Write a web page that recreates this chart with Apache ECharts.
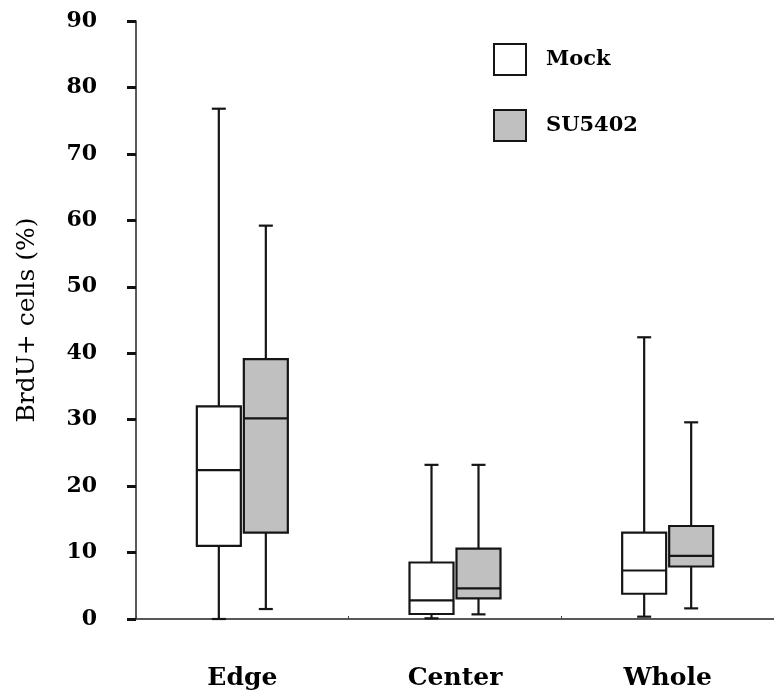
<!DOCTYPE html>
<html>
<head>
<meta charset="utf-8">
<script src="https://cdn.jsdelivr.net/npm/echarts@6/dist/echarts.min.js"></script>
<style>
  html, body { margin: 0; padding: 0; background: #fff; }
  #chart { width: 774px; height: 700px; }
</style>
</head>
<body>
<div id="chart"></div>
<script>
// data: [min, q1, median, q3, max]
const categories = ["Edge", "Center", "Whole"];
const seriesNames = ["Mock", "SU5402"];
const mockBox = [
  [0, 11.0, 22.4, 32.0, 76.8],
  [0.1, 0.75, 2.8, 8.5, 23.2],
  [0.35, 3.8, 7.3, 13.0, 42.4]
];
const suBox = [
  [1.5, 13.0, 30.2, 39.1, 59.2],
  [0.7, 3.1, 4.6, 10.6, 23.2],
  [1.6, 7.9, 9.5, 14.0, 29.6]
];
const yTicks = [0, 90, 10]; // min, max, step

const font = "DejaVu Serif";
const fills = ["#ffffff", "#c0c0c0"];
const offsets = [-23.5, 23.5];

function toRows(box) {
  return box.map((b, i) => [i].concat(b));
}

function renderBox(params, api) {
  const xi = api.value(0);
  const off = offsets[params.seriesIndex];
  const pMin = api.coord([xi, api.value(1)]);
  const pQ1 = api.coord([xi, api.value(2)]);
  const pMed = api.coord([xi, api.value(3)]);
  const pQ3 = api.coord([xi, api.value(4)]);
  const pMax = api.coord([xi, api.value(5)]);
  const cx = pMin[0] + off;
  const hw = 22, cap = 7;
  const line = { stroke: "#151515", lineWidth: 2.2 };
  const seg = (x1, y1, x2, y2) => ({
    type: "line",
    shape: { x1: x1, y1: y1, x2: x2, y2: y2 },
    style: line
  });
  return {
    type: "group",
    children: [
      seg(cx, pQ3[1], cx, pMax[1]),
      seg(cx - cap, pMax[1], cx + cap, pMax[1]),
      seg(cx, pQ1[1], cx, pMin[1]),
      seg(cx - cap, pMin[1], cx + cap, pMin[1]),
      {
        type: "rect",
        shape: { x: cx - hw, y: pQ3[1], width: hw * 2, height: pQ1[1] - pQ3[1] },
        style: { fill: fills[params.seriesIndex], stroke: "#151515", lineWidth: 2.2 }
      },
      seg(cx - hw, pMed[1], cx + hw, pMed[1])
    ]
  };
}

const chart = echarts.init(document.getElementById("chart"), null, { renderer: "canvas" });

chart.setOption({
  backgroundColor: "#fff",
  animation: false,
  grid: { left: 136, right: -5, top: 21, bottom: 81 },
  legend: {
    orient: "vertical",
    left: 488,
    top: 38,
    itemWidth: 32,
    itemHeight: 31,
    itemGap: 33,
    icon: "rect",
    selectedMode: false,
    textStyle: {
      fontFamily: font,
      fontWeight: "bold",
      fontSize: 21,
      color: "#000",
      padding: [0, 0, 0, 15]
    },
    data: [
      { name: seriesNames[0], itemStyle: { color: fills[0], borderColor: "#151515", borderWidth: 2 } },
      { name: seriesNames[1], itemStyle: { color: fills[1], borderColor: "#151515", borderWidth: 2 } }
    ]
  },
  xAxis: {
    type: "category",
    data: categories,
    boundaryGap: true,
    axisLine: { lineStyle: { color: "#222", width: 1.5 } },
    axisTick: { show: true, inside: true, length: 3, lineStyle: { color: "#444" } },
    axisLabel: {
      margin: 47,
      fontFamily: font,
      fontWeight: "bold",
      fontSize: 25,
      color: "#000"
    },
    splitLine: { show: false }
  },
  yAxis: {
    type: "value",
    min: yTicks[0],
    max: yTicks[1],
    interval: yTicks[2],
    name: "BrdU+ cells (%)",
    nameLocation: "middle",
    nameGap: 96,
    nameTextStyle: { fontFamily: font, fontSize: 25, color: "#000" },
    axisLine: { show: true, lineStyle: { color: "#222", width: 1.5 } },
    axisTick: { show: true, length: 9, lineStyle: { color: "#111", width: 3 } },
    axisLabel: {
      margin: 39,
      fontFamily: font,
      fontWeight: "bold",
      fontSize: 22,
      color: "#000"
    },
    splitLine: { show: false }
  },
  series: [
    {
      name: seriesNames[0],
      type: "custom",
      renderItem: renderBox,
      itemStyle: { color: fills[0], borderColor: "#151515" },
      encode: { x: 0, y: [1, 2, 3, 4, 5] },
      data: toRows(mockBox)
    },
    {
      name: seriesNames[1],
      type: "custom",
      renderItem: renderBox,
      itemStyle: { color: fills[1], borderColor: "#151515" },
      encode: { x: 0, y: [1, 2, 3, 4, 5] },
      data: toRows(suBox)
    }
  ]
});
</script>
</body>
</html>
